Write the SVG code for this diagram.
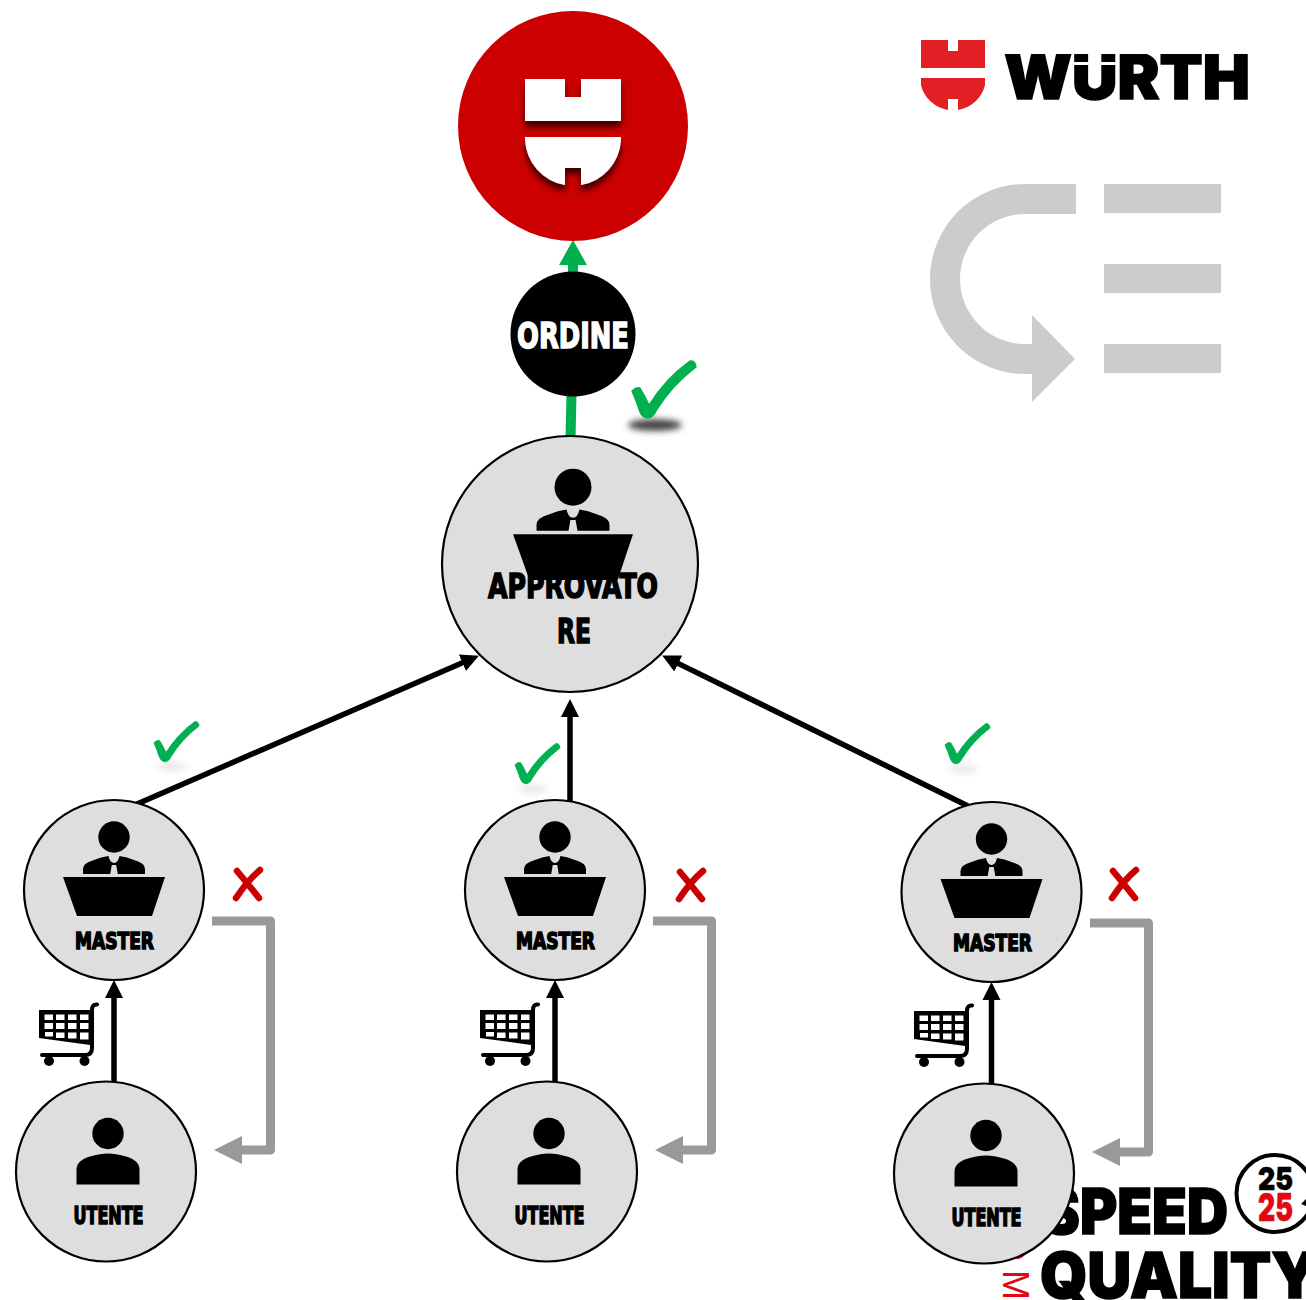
<svg xmlns="http://www.w3.org/2000/svg" width="1306" height="1300" viewBox="0 0 1306 1300">
<style>
.node{fill:#dedede;stroke:#000;stroke-width:2.2}
.lbl{font-family:"Liberation Sans Narrow","DejaVu Sans Condensed","Liberation Sans",sans-serif;font-weight:700;fill:#000;stroke:#000;stroke-width:1.5;text-anchor:start}
.blk{fill:none;stroke:#000;stroke-width:5.5}
.gry{fill:none;stroke:#999;stroke-width:9;stroke-linejoin:round}
.grn{fill:none;stroke:#00b050;stroke-width:10}
.xm{fill:none;stroke:#c00;stroke-width:6.500;stroke-linecap:round}
.hv{font-family:Inter,"Liberation Sans",sans-serif;font-weight:900;fill:#000;stroke:#000;stroke-width:1.5}
.faint{fill:#888;opacity:.2}
</style>
<defs>
<marker id="ab" markerUnits="userSpaceOnUse" markerWidth="20" markerHeight="20" refX="2" refY="10" orient="auto"><path d="M0 1L18 10L0 19Z" fill="#000"/></marker>
<marker id="ag" markerUnits="userSpaceOnUse" markerWidth="29" markerHeight="28" refX="1" refY="14" orient="auto"><path d="M0 0L28 14L0 28Z" fill="#999"/></marker>
<marker id="an" markerUnits="userSpaceOnUse" markerWidth="26" markerHeight="28" refX="1" refY="14" orient="auto"><path d="M0 0L25 14L0 28Z" fill="#00b050"/></marker>
<filter id="sh" x="-30%" y="-30%" width="160%" height="170%"><feDropShadow dx="0" dy="6" stdDeviation="3" flood-color="#000" flood-opacity="0.7"/></filter>
<filter id="bl" x="-40%" y="-100%" width="180%" height="300%"><feGaussianBlur stdDeviation="3"/></filter>
<clipPath id="capclip"><rect x="1000" y="54" width="260" height="50"/></clipPath>
<path id="tick" d="M632 391Q636 387 640 388Q645 396 649 405Q666 378 690 361Q695 360 696 367Q671 386 656 411Q653 418 647 418Q642 417 640 412Q636 400 632 391Z" fill="#00b050" stroke="#00b050" stroke-width="1.4" stroke-linejoin="round"/>
<g id="boss">
<circle cx="0" cy="-53" r="15.7"/>
<path d="M-31 -16V-21Q-31 -27 -20 -30Q-13 -33 -5.500 -34Q-4 -27 0 -27Q4 -27 5.500 -34Q13 -33 20 -30Q31 -27 31 -21V-16H3.800L2.200 -25H-2.200L-3.800 -16Z"/>
<path d="M-51 -13H51L38 26H-37Z"/>
</g>
<g id="user">
<circle cx="0" cy="0" r="15.7"/>
<path d="M-31.5 51V36Q-31.5 27 -18 23Q-8 20 0 20Q8 20 18 23Q31.5 27 31.5 36V51Z"/>
</g>
<g id="cart">
<path d="M39 1010H90V1045L39 1038Z" fill="#000"/>
<g fill="#fff">
<rect x="44.5" y="1014.5" width="8.5" height="5.5"/><rect x="56" y="1014.5" width="8.5" height="5.5"/><rect x="68" y="1014.5" width="8.5" height="5.5"/><rect x="80" y="1014.5" width="8.5" height="5.5"/>
<rect x="44.5" y="1023" width="8.5" height="6"/><rect x="56" y="1023" width="8.5" height="6"/><rect x="68" y="1023" width="8.5" height="6"/><rect x="80" y="1023" width="8.5" height="6"/>
<rect x="45" y="1032" width="8" height="4.5"/><rect x="56" y="1032.5" width="8.5" height="5.5"/><rect x="68" y="1032.5" width="8.5" height="6"/><rect x="80" y="1032.5" width="8.5" height="7"/>
</g>
<path d="M97 1004.5Q92 1004 92 1010V1048Q92 1055 85 1055H42" fill="none" stroke="#000" stroke-width="4" stroke-linecap="round"/>
<circle cx="49" cy="1061" r="5"/><circle cx="84.500" cy="1061" r="5"/>
</g>
</defs>

<g id="connectors">
<path class="grn" d="M573 272V264" marker-end="url(#an)"/>
<path class="grn" d="M570.500 438L571.500 395"/>
<path class="blk" d="M137 804L464.200 662" marker-end="url(#ab)"/>
<path class="blk" d="M570 802V715" marker-end="url(#ab)"/>
<path class="blk" d="M968 806L676.500 662.600" marker-end="url(#ab)"/>
<path class="blk" d="M114 1083V996" marker-end="url(#ab)"/>
<path class="blk" d="M555 1083V996" marker-end="url(#ab)"/>
<path class="blk" d="M991.500 1085V998" marker-end="url(#ab)"/>
<path class="gry" d="M212 921H270.500V1150H241" marker-end="url(#ag)"/>
<path class="gry" d="M653 921H711.500V1150H682" marker-end="url(#ag)"/>
<path class="gry" d="M1090 923H1148.500V1152H1119" marker-end="url(#ag)"/>
</g>

<g id="speed-quality-logo">
<text class="hv" x="1042" y="1234" font-size="63" textLength="186" lengthAdjust="spacingAndGlyphs">SPEED</text>
<text class="hv" x="1040" y="1298" font-size="63" textLength="278" lengthAdjust="spacingAndGlyphs">QUALITY</text>
<circle cx="1275" cy="1193.500" r="38.500" fill="#fff" stroke="#000" stroke-width="4"/>
<text class="hv" x="1258" y="1190" font-size="32" textLength="35" lengthAdjust="spacingAndGlyphs" style="stroke-width:.5">25</text>
<text class="hv" x="1258" y="1221" font-size="39" textLength="35" lengthAdjust="spacingAndGlyphs" style="fill:#e30613;stroke:#e30613;stroke-width:.5">25</text>
<path d="M1306 1199L1301 1204L1306 1206Z" fill="#000"/>
<text x="0" y="0" transform="translate(1003 1270) rotate(90)" font-family="Liberation Sans,sans-serif" font-size="36" fill="#e30613">M</text>
<path d="M1011 1256Q1018 1263 1026 1254L1024 1250L1012 1252Z" fill="#e30613"/>
</g>

<g id="node-azienda">
<circle cx="573" cy="126" r="115" fill="#c00"/>
<g filter="url(#sh)" fill="#fff">
<path d="M525 79H565V97H581V79H621V121H525Z"/>
<path d="M525 137H621V140A48 48 0 0 1 581 185V168H565V185A48 48 0 0 1 525 140Z"/>
</g>
</g>

<g id="node-ordine">
<circle cx="573" cy="334" r="62.500" fill="#000"/>
<text class="lbl" x="517" y="348" font-size="36" textLength="112" lengthAdjust="spacingAndGlyphs" style="fill:#fff;stroke:#fff">ORDINE</text>
</g>

<g id="tick-ordine">
<ellipse cx="655" cy="425" rx="27" ry="6" fill="#444" filter="url(#bl)"/>
<use href="#tick"/>
</g>

<g id="node-approvatore">
<circle class="node" cx="570" cy="564" r="128"/>
<text class="lbl" x="488" y="598" font-size="34" textLength="170" lengthAdjust="spacingAndGlyphs">APPROVATO</text>
<text class="lbl" x="557" y="643" font-size="34" textLength="34" lengthAdjust="spacingAndGlyphs">RE</text>
<use href="#boss" transform="translate(573 549.500) scale(1.176)"/>
</g>

<g id="node-master-1">
<circle class="node" cx="114" cy="890" r="90"/>
<use href="#boss" transform="translate(114 890)"/>
<text class="lbl" x="75" y="949" font-size="23" textLength="79" lengthAdjust="spacingAndGlyphs">MASTER</text>
</g>
<g id="node-master-2">
<circle class="node" cx="555" cy="890" r="90"/>
<use href="#boss" transform="translate(555 890)"/>
<text class="lbl" x="516" y="949" font-size="23" textLength="79" lengthAdjust="spacingAndGlyphs">MASTER</text>
</g>
<g id="node-master-3">
<circle class="node" cx="991.500" cy="892" r="90"/>
<use href="#boss" transform="translate(991.500 892)"/>
<text class="lbl" x="953" y="951" font-size="23" textLength="79" lengthAdjust="spacingAndGlyphs">MASTER</text>
</g>

<g id="node-utente-1">
<circle class="node" cx="106" cy="1171.500" r="90"/>
<use href="#user" transform="translate(108 1133.500)"/>
<text class="lbl" x="73.500" y="1224" font-size="24" textLength="70" lengthAdjust="spacingAndGlyphs">UTENTE</text>
</g>
<g id="node-utente-2">
<circle class="node" cx="547" cy="1171.500" r="90"/>
<use href="#user" transform="translate(549 1133.500)"/>
<text class="lbl" x="514.500" y="1224" font-size="24" textLength="70" lengthAdjust="spacingAndGlyphs">UTENTE</text>
</g>
<g id="node-utente-3">
<circle class="node" cx="984" cy="1173.500" r="90"/>
<use href="#user" transform="translate(986 1135.500)"/>
<text class="lbl" x="951.500" y="1226" font-size="24" textLength="70" lengthAdjust="spacingAndGlyphs">UTENTE</text>
</g>

<g id="carts">
<use href="#cart"/>
<use href="#cart" transform="translate(441 0)"/>
<use href="#cart" transform="translate(875 1)"/>
</g>

<g id="ticks">
<ellipse class="faint" cx="172" cy="767" rx="15" ry="4" filter="url(#bl)"/>
<ellipse class="faint" cx="533" cy="789" rx="15" ry="4" filter="url(#bl)"/>
<ellipse class="faint" cx="963" cy="769" rx="15" ry="4" filter="url(#bl)"/>
<use href="#tick" transform="translate(154 721) scale(0.703) translate(-632 -360)"/>
<use href="#tick" transform="translate(515 743) scale(0.703) translate(-632 -360)"/>
<use href="#tick" transform="translate(945 723) scale(0.703) translate(-632 -360)"/>
</g>

<g id="crosses">
<path class="xm" d="M236 898Q248 880 260 870M237 871Q248 884 259 898"/>
<path class="xm" d="M679 899Q691 881 703 871M680 872Q691 885 702 899"/>
<path class="xm" d="M1112 898Q1124 880 1136 870M1113 871Q1124 884 1135 898"/>
</g>

<g id="wurth-logo">
<g fill="#e31f26">
<path d="M921 40H948V51H958V40H985V68H921Z"/>
<path d="M921 78H985V85A33 33 0 0 1 958 110V99H948V110A33 33 0 0 1 921 85Z"/>
</g>
<text class="hv" x="1004" y="99" font-size="62" textLength="246" lengthAdjust="spacingAndGlyphs" clip-path="url(#capclip)" style="stroke-width:1.500">WÜRTH</text>
<rect x="1074" y="62" width="42" height="3" fill="#fff"/>
</g>

<g id="process-icon" fill="#ccc">
<path d="M1076 184H1025A95 95 0 0 0 1025 374H1032V402L1075 359L1032 315V344H1025A65 65 0 0 1 1025 214H1076Z"/>
<rect x="1104" y="184" width="117" height="29"/>
<rect x="1104" y="264" width="117" height="29"/>
<rect x="1104" y="344" width="117" height="29"/>
</g>
</svg>
